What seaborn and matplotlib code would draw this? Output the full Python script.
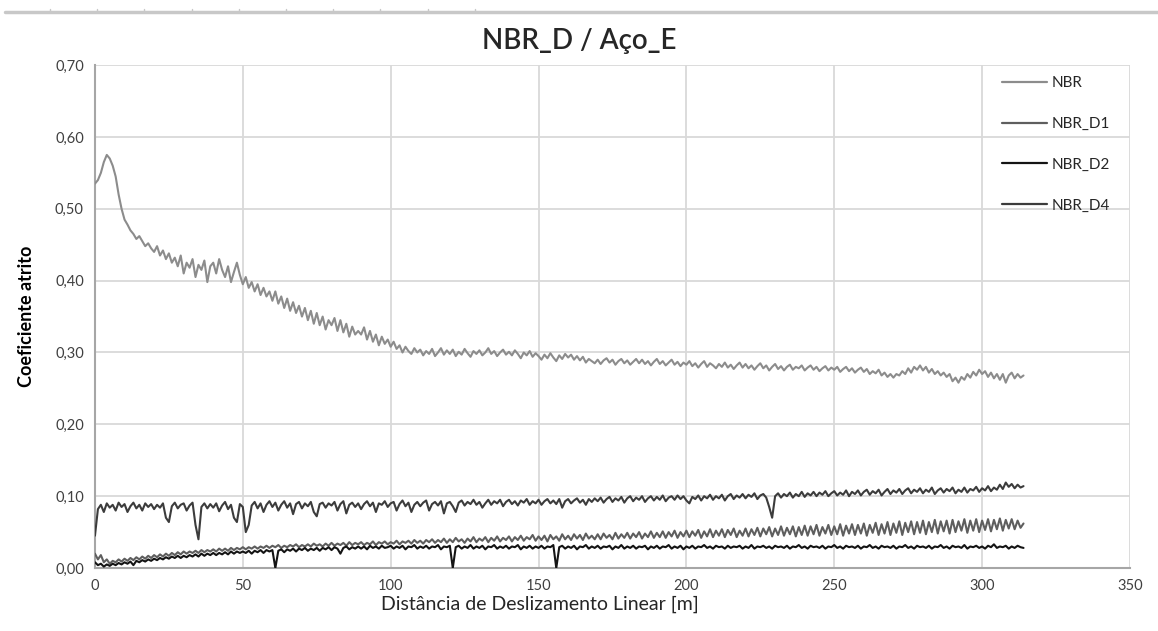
import numpy as np
import pandas as pd
import matplotlib
matplotlib.use("Agg")
import matplotlib.pyplot as plt
from matplotlib.lines import Line2D
import seaborn as sns

# ---- data (x sampled every 1 m from 0 to 314 m) ----
step_m = 1
nbr = [
    0.535, 0.54, 0.55, 0.565, 0.575, 0.57, 0.56, 0.545, 0.52, 0.50,
    0.485, 0.478, 0.47, 0.465, 0.458, 0.462, 0.455, 0.448, 0.452, 0.445,
    0.44, 0.448, 0.435, 0.442, 0.43, 0.438, 0.425, 0.432, 0.42, 0.435,
    0.41, 0.425, 0.418, 0.43, 0.405, 0.422, 0.415, 0.428, 0.398, 0.42,
    0.425, 0.41, 0.43, 0.415, 0.405, 0.42, 0.398, 0.412, 0.425, 0.408,
    0.395, 0.405, 0.39, 0.398, 0.385, 0.395, 0.38, 0.39, 0.378, 0.385,
    0.372, 0.385, 0.368, 0.378, 0.362, 0.375, 0.358, 0.37, 0.355, 0.365,
    0.35, 0.362, 0.345, 0.358, 0.34, 0.355, 0.338, 0.35, 0.332, 0.345,
    0.338, 0.348, 0.33, 0.345, 0.328, 0.34, 0.322, 0.336, 0.325, 0.33,
    0.325, 0.335, 0.318, 0.33, 0.315, 0.325, 0.31, 0.322, 0.312, 0.318,
    0.308, 0.315, 0.305, 0.31, 0.3, 0.308, 0.302, 0.298, 0.306, 0.3,
    0.304, 0.296, 0.302, 0.298, 0.305, 0.295, 0.3, 0.306, 0.297, 0.303,
    0.298, 0.304, 0.295, 0.301, 0.297, 0.305, 0.299, 0.294, 0.302, 0.298,
    0.303, 0.296, 0.3, 0.306, 0.298, 0.302, 0.295, 0.3, 0.304, 0.297,
    0.301, 0.296, 0.303, 0.298, 0.292, 0.3, 0.296, 0.302, 0.294, 0.299,
    0.295, 0.29, 0.297, 0.292, 0.299, 0.293, 0.288, 0.296, 0.291, 0.298,
    0.293, 0.297, 0.29, 0.295, 0.289, 0.294, 0.286, 0.291, 0.288, 0.285,
    0.29, 0.284, 0.289, 0.292, 0.286, 0.29, 0.283, 0.288, 0.291, 0.285,
    0.289, 0.283, 0.287, 0.291, 0.285, 0.29, 0.284, 0.288, 0.282, 0.287,
    0.291, 0.284, 0.288, 0.282, 0.286, 0.29, 0.283, 0.287, 0.281, 0.286,
    0.283, 0.288, 0.281, 0.285, 0.279, 0.284, 0.288, 0.28, 0.285, 0.282,
    0.278, 0.284, 0.28, 0.286, 0.279, 0.283, 0.277, 0.282, 0.286, 0.279,
    0.284, 0.278, 0.282, 0.276, 0.281, 0.285, 0.278, 0.282, 0.275, 0.28,
    0.284, 0.277, 0.281, 0.275, 0.28, 0.283, 0.276, 0.28, 0.278, 0.282,
    0.275, 0.279, 0.282, 0.276, 0.28, 0.274, 0.278, 0.281, 0.275, 0.279,
    0.276, 0.28, 0.273, 0.277, 0.28, 0.274, 0.278, 0.272, 0.276, 0.279,
    0.273, 0.277, 0.27, 0.274, 0.271, 0.276, 0.268, 0.272, 0.266, 0.27,
    0.265, 0.27, 0.268, 0.274, 0.27, 0.278, 0.272, 0.28, 0.276, 0.282,
    0.275, 0.28, 0.272, 0.277, 0.27, 0.274, 0.268, 0.272, 0.266, 0.27,
    0.26, 0.265, 0.258, 0.266, 0.262, 0.27, 0.265, 0.273, 0.268, 0.276,
    0.27, 0.274, 0.266, 0.272, 0.264, 0.27, 0.262, 0.27, 0.258, 0.268,
    0.272, 0.264, 0.27, 0.265, 0.268,
]
nbr_d1 = [
    0.02, 0.012, 0.018, 0.008, 0.012, 0.006, 0.01, 0.008, 0.012, 0.009,
    0.013, 0.01, 0.014, 0.011, 0.015, 0.012, 0.016, 0.013, 0.017, 0.014,
    0.018, 0.015, 0.019, 0.016, 0.02, 0.017, 0.021, 0.018, 0.022, 0.019,
    0.023, 0.02, 0.023, 0.021, 0.024, 0.021, 0.025, 0.022, 0.025, 0.023,
    0.026, 0.023, 0.027, 0.024, 0.027, 0.024, 0.028, 0.025, 0.028, 0.026,
    0.029, 0.026, 0.029, 0.027, 0.03, 0.027, 0.03, 0.028, 0.031, 0.028,
    0.031, 0.029, 0.032, 0.028, 0.031, 0.029, 0.032, 0.03, 0.033, 0.029,
    0.032, 0.03, 0.033, 0.03, 0.034, 0.031, 0.033, 0.03, 0.034, 0.031,
    0.035, 0.031, 0.034, 0.032, 0.035, 0.031, 0.036, 0.032, 0.035, 0.033,
    0.036, 0.032, 0.035, 0.033, 0.037, 0.032, 0.036, 0.034, 0.037, 0.033,
    0.036, 0.034, 0.038, 0.033, 0.037, 0.035, 0.038, 0.034, 0.039, 0.035,
    0.038, 0.034, 0.039, 0.036, 0.04, 0.035, 0.039, 0.036, 0.041, 0.035,
    0.04, 0.036, 0.042, 0.037, 0.04, 0.035, 0.041, 0.037, 0.043, 0.036,
    0.041, 0.038, 0.043, 0.036, 0.042, 0.038, 0.044, 0.037, 0.042, 0.039,
    0.044, 0.037, 0.043, 0.039, 0.045, 0.038, 0.043, 0.04, 0.046, 0.038,
    0.044, 0.039, 0.045, 0.037, 0.046, 0.04, 0.044, 0.038, 0.047, 0.04,
    0.045, 0.039, 0.047, 0.041, 0.046, 0.039, 0.048, 0.041, 0.045, 0.04,
    0.047, 0.04, 0.048, 0.042, 0.046, 0.04, 0.049, 0.041, 0.047, 0.042,
    0.049, 0.041, 0.048, 0.043, 0.05, 0.041, 0.048, 0.043, 0.051, 0.042,
    0.049, 0.043, 0.051, 0.042, 0.05, 0.044, 0.052, 0.042, 0.05, 0.044,
    0.052, 0.043, 0.051, 0.045, 0.053, 0.042, 0.051, 0.044, 0.054, 0.043,
    0.052, 0.045, 0.054, 0.043, 0.053, 0.046, 0.055, 0.043, 0.052, 0.045,
    0.055, 0.044, 0.054, 0.046, 0.056, 0.044, 0.055, 0.047, 0.057, 0.044,
    0.055, 0.046, 0.058, 0.045, 0.056, 0.047, 0.058, 0.044, 0.057, 0.046,
    0.059, 0.045, 0.058, 0.047, 0.06, 0.045, 0.057, 0.048, 0.06, 0.046,
    0.058, 0.047, 0.061, 0.045, 0.059, 0.048, 0.061, 0.046, 0.06, 0.048,
    0.062, 0.045, 0.06, 0.049, 0.063, 0.046, 0.061, 0.048, 0.064, 0.046,
    0.062, 0.049, 0.065, 0.046, 0.063, 0.05, 0.065, 0.047, 0.064, 0.049,
    0.066, 0.047, 0.064, 0.05, 0.067, 0.048, 0.065, 0.051, 0.066, 0.048,
    0.067, 0.05, 0.065, 0.052, 0.068, 0.049, 0.066, 0.052, 0.068, 0.05,
    0.066, 0.053, 0.068, 0.051, 0.067, 0.054, 0.069, 0.052, 0.067, 0.055,
    0.068, 0.054, 0.066, 0.056, 0.062,
]
nbr_d2 = [
    0.008, 0.004, 0.006, 0.002, 0.005, 0.003, 0.006, 0.004, 0.007, 0.005,
    0.008, 0.006, 0.009, 0.004, 0.01, 0.008, 0.011, 0.009, 0.012, 0.01,
    0.013, 0.011, 0.014, 0.012, 0.015, 0.013, 0.016, 0.014, 0.017, 0.014,
    0.017, 0.015, 0.018, 0.016, 0.019, 0.016, 0.02, 0.017, 0.02, 0.018,
    0.021, 0.018, 0.021, 0.019, 0.022, 0.019, 0.023, 0.02, 0.023, 0.021,
    0.023, 0.021, 0.024, 0.02, 0.024, 0.022, 0.025, 0.021, 0.025, 0.023,
    0.025, 0.0, 0.024, 0.026, 0.022, 0.026, 0.024, 0.027, 0.023, 0.027,
    0.025, 0.028, 0.024, 0.027, 0.025, 0.028, 0.024, 0.028, 0.026, 0.029,
    0.025, 0.029, 0.027, 0.02, 0.028, 0.03, 0.026, 0.029, 0.027, 0.03,
    0.027, 0.03, 0.026, 0.031, 0.028, 0.03, 0.027, 0.031, 0.028, 0.029,
    0.031, 0.027, 0.03, 0.028, 0.031, 0.026, 0.03, 0.029, 0.032, 0.027,
    0.03, 0.028, 0.031, 0.027, 0.03, 0.029, 0.032, 0.026, 0.03, 0.029,
    0.031, 0.0, 0.029, 0.031, 0.027, 0.03, 0.028, 0.032, 0.027, 0.03,
    0.028, 0.031, 0.026, 0.03, 0.029, 0.032, 0.027, 0.03, 0.028, 0.031,
    0.027, 0.03, 0.029, 0.032, 0.026, 0.03, 0.028, 0.031, 0.027, 0.03,
    0.028, 0.031, 0.027, 0.03, 0.029, 0.032, 0.0, 0.029, 0.031, 0.027,
    0.03, 0.028, 0.031, 0.026, 0.03, 0.029, 0.032, 0.027, 0.03, 0.028,
    0.031, 0.027, 0.03, 0.029, 0.031, 0.026, 0.03, 0.028, 0.032, 0.027,
    0.03, 0.028, 0.031, 0.027, 0.03, 0.029, 0.031, 0.026, 0.03, 0.028,
    0.031, 0.027, 0.03, 0.029, 0.032, 0.027, 0.03, 0.028, 0.031, 0.026,
    0.03, 0.028, 0.031, 0.027, 0.03, 0.029, 0.032, 0.028, 0.03, 0.027,
    0.031, 0.029, 0.03, 0.027, 0.031, 0.028, 0.03, 0.029, 0.031, 0.027,
    0.03, 0.028, 0.032, 0.027, 0.03, 0.029, 0.031, 0.028, 0.03, 0.027,
    0.031, 0.029, 0.03, 0.028, 0.031, 0.027, 0.03, 0.029, 0.032, 0.028,
    0.03, 0.027, 0.031, 0.029, 0.03, 0.028, 0.031, 0.027, 0.03, 0.029,
    0.032, 0.028, 0.03, 0.027, 0.031, 0.029, 0.03, 0.028, 0.031, 0.027,
    0.03, 0.029, 0.032, 0.028, 0.03, 0.027, 0.031, 0.029, 0.03, 0.028,
    0.031, 0.027, 0.03, 0.029, 0.032, 0.028, 0.03, 0.027, 0.031, 0.029,
    0.03, 0.028, 0.031, 0.027, 0.03, 0.029, 0.032, 0.028, 0.03, 0.027,
    0.031, 0.029, 0.03, 0.028, 0.032, 0.027, 0.03, 0.029, 0.031, 0.028,
    0.03, 0.027, 0.031, 0.029, 0.033, 0.028, 0.03, 0.029, 0.031, 0.027,
    0.03, 0.028, 0.031, 0.029, 0.028,
]
nbr_d4 = [
    0.045, 0.082, 0.088, 0.078, 0.09, 0.084, 0.088, 0.08, 0.091, 0.085,
    0.089, 0.078, 0.086, 0.091, 0.083, 0.088, 0.08, 0.09, 0.085, 0.089,
    0.082, 0.088, 0.084, 0.09, 0.07, 0.064, 0.086, 0.091, 0.083, 0.088,
    0.09, 0.08, 0.087, 0.091, 0.06, 0.04, 0.085, 0.09, 0.083, 0.089,
    0.084, 0.09, 0.079, 0.087, 0.092, 0.082, 0.088, 0.07, 0.064, 0.089,
    0.085, 0.05, 0.06, 0.087, 0.092, 0.083, 0.09, 0.078, 0.088, 0.093,
    0.085, 0.091, 0.08, 0.088, 0.093, 0.084, 0.09, 0.075, 0.089, 0.092,
    0.083, 0.09, 0.086, 0.092, 0.078, 0.072, 0.089, 0.091, 0.084, 0.09,
    0.087, 0.092, 0.08, 0.089, 0.093, 0.076, 0.088, 0.091, 0.085, 0.09,
    0.082, 0.089, 0.093, 0.086, 0.091, 0.078, 0.09, 0.088, 0.093, 0.085,
    0.09, 0.092, 0.08, 0.089, 0.094, 0.086, 0.091, 0.078, 0.088, 0.092,
    0.086, 0.091, 0.094, 0.08, 0.089, 0.092, 0.087, 0.093, 0.076, 0.09,
    0.092, 0.086, 0.078, 0.091, 0.094, 0.087, 0.092, 0.089, 0.095, 0.088,
    0.092, 0.084, 0.09, 0.095, 0.088, 0.093, 0.09, 0.095, 0.086, 0.092,
    0.095, 0.089, 0.093, 0.087, 0.094, 0.091, 0.096, 0.088, 0.093, 0.09,
    0.095, 0.088, 0.093, 0.096, 0.09, 0.094, 0.089, 0.096, 0.084, 0.093,
    0.096, 0.09, 0.094, 0.097, 0.091, 0.095, 0.088, 0.096, 0.092, 0.097,
    0.093, 0.098, 0.091, 0.096, 0.099, 0.092, 0.097, 0.094, 0.099, 0.091,
    0.097, 0.1, 0.093, 0.098, 0.095, 0.1, 0.092, 0.097, 0.1, 0.094,
    0.099, 0.095, 0.101, 0.093, 0.098, 0.1, 0.095, 0.101, 0.096, 0.1,
    0.094, 0.09, 0.099, 0.096, 0.101, 0.094, 0.1, 0.097, 0.102, 0.095,
    0.1, 0.097, 0.102, 0.094, 0.1, 0.103, 0.096, 0.101, 0.098, 0.103,
    0.097, 0.102, 0.099, 0.104, 0.096, 0.101, 0.103, 0.098, 0.085, 0.07,
    0.1, 0.104, 0.098, 0.103, 0.1, 0.105, 0.098, 0.103, 0.1, 0.106,
    0.099, 0.104, 0.101, 0.106, 0.1, 0.105, 0.102, 0.107, 0.1, 0.104,
    0.107, 0.101, 0.105, 0.102, 0.108, 0.1, 0.106, 0.103, 0.108, 0.101,
    0.106, 0.109, 0.102, 0.107, 0.104, 0.109, 0.101, 0.106, 0.11, 0.103,
    0.108, 0.105, 0.11, 0.103, 0.108, 0.111, 0.104, 0.109, 0.106, 0.111,
    0.104, 0.109, 0.106, 0.112, 0.103, 0.108, 0.111, 0.105, 0.11, 0.107,
    0.112, 0.104, 0.109, 0.106, 0.112, 0.105, 0.11, 0.108, 0.113, 0.106,
    0.111, 0.108, 0.114, 0.107, 0.112, 0.109, 0.116, 0.11, 0.119, 0.113,
    0.117, 0.111, 0.116, 0.112, 0.114,
]
series_names = ["NBR", "NBR_D1", "NBR_D2", "NBR_D4"]
x_ticks = [0, 50, 100, 150, 200, 250, 300, 350]
y_ticks = [0.0, 0.1, 0.2, 0.3, 0.4, 0.5, 0.6, 0.7]

for arr in (nbr, nbr_d1, nbr_d2, nbr_d4):
    if len(arr) != 315:
        raise ValueError(f"length {len(arr)}")

colors = {"NBR": "#8c8c8c", "NBR_D1": "#5e5e5e", "NBR_D2": "#141414", "NBR_D4": "#3c3c3c"}

frames = []
for name, vals in zip(series_names, [nbr, nbr_d1, nbr_d2, nbr_d4]):
    frames.append(pd.DataFrame({
        "dist": np.arange(len(vals)) * step_m,
        "coef": vals,
        "serie": name,
    }))
df = pd.concat(frames, ignore_index=True)

sns.set_theme(style="white")
plt.rcParams["font.family"] = ["Lato", "DejaVu Sans"]

fig = plt.figure(figsize=(11.58, 6.31), dpi=100)
ax = fig.add_axes([0.082, 0.0998, 0.8938, 0.797])

for name in ["NBR", "NBR_D4", "NBR_D1", "NBR_D2"]:
    sub = df[df["serie"] == name]
    sns.lineplot(data=sub, x="dist", y="coef", color=colors[name], lw=1.5,
                 ax=ax, legend=False, estimator=None, sort=False, zorder=3)

ax.set_xlim(0, 350)
ax.set_ylim(0, 0.70)
ax.set_xticks(x_ticks)
ax.set_yticks(y_ticks)
ax.set_xticklabels([str(v) for v in x_ticks], fontsize=10.5, color="#404040")
ax.set_yticklabels([f"{v:.2f}".replace(".", ",") for v in y_ticks], fontsize=10.5, color="#404040")
ax.tick_params(axis="both", length=0, pad=8)
ax.grid(True, color="#d9d9d9", lw=1.3, zorder=0)
ax.set_axisbelow(True)
for s in ["top", "right"]:
    ax.spines[s].set_visible(False)
ax.spines["left"].set_color("#a6a6a6")
ax.spines["bottom"].set_color("#a6a6a6")
ax.spines["left"].set_linewidth(1.5)
ax.spines["bottom"].set_linewidth(1.5)

ax.set_xlabel("Distância de Deslizamento Linear [m]", fontsize=14, color="#262626")
ax.xaxis.set_label_coords(0.43, -0.055)
ax.set_ylabel("Coeficiente atrito", fontsize=13, fontweight="bold", color="#000000")
ax.yaxis.set_label_coords(-0.058, 0.5)
fig.text(0.5, 0.935, "NBR_D / Aço_E", ha="center", va="center", fontsize=20,
         fontweight="semibold", color="#262626")

handles = [Line2D([0], [0], color=colors[n], lw=1.6) for n in series_names]
leg = ax.legend(handles, series_names, loc="upper left", bbox_to_anchor=(0.87, 0.99),
                frameon=False, fontsize=11, handlelength=3.0, labelspacing=1.75,
                handletextpad=0.3, borderaxespad=0)
for t in leg.get_texts():
    t.set_color("#262626")

# top strip of the source screenshot
fig.add_artist(Line2D([0.004, 1.0], [1 - 12 / 631, 1 - 12 / 631], color="#c8c8c8", lw=2.5,
                      transform=fig.transFigure))
for i in range(10):
    xp = 50 + i * 47.2
    fig.add_artist(Line2D([xp / 1158, xp / 1158], [1 - 9 / 631, 1 - 11 / 631], color="#c8c8c8",
                          lw=1, transform=fig.transFigure))

fig.savefig("out.png", dpi=100)
